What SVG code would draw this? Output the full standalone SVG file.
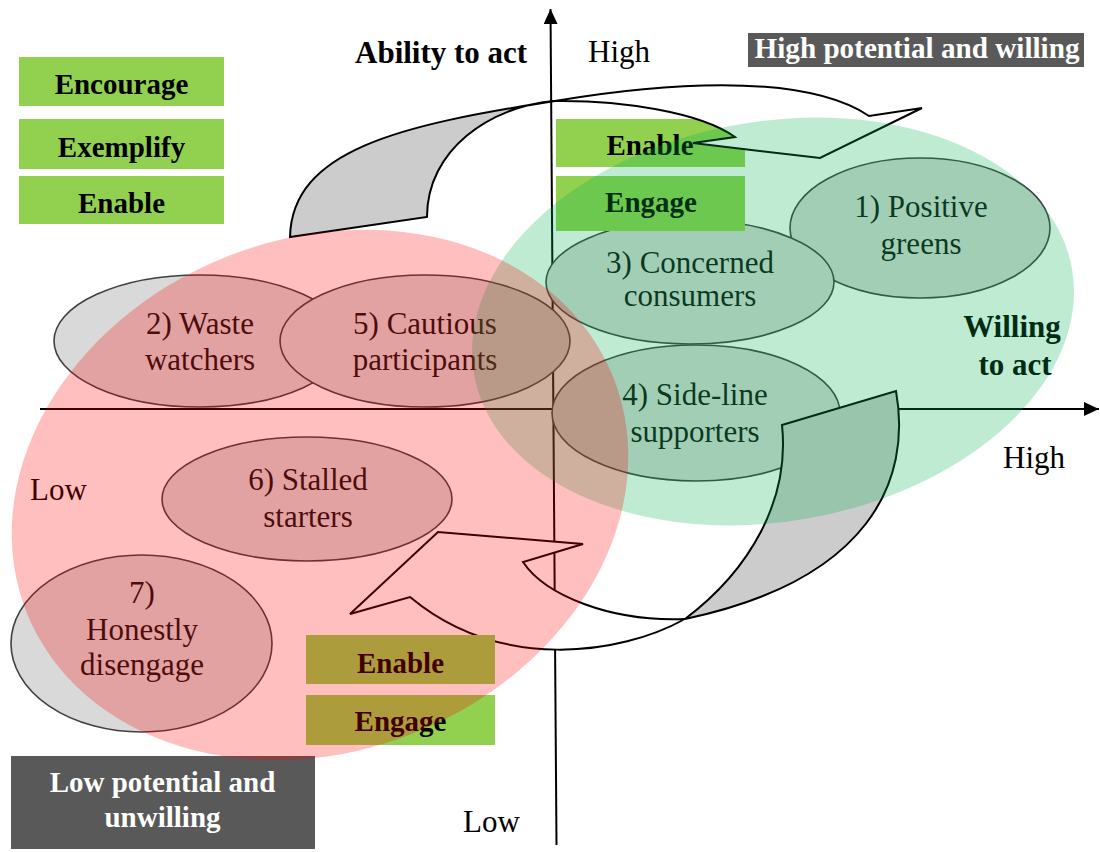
<svg xmlns="http://www.w3.org/2000/svg" width="1100" height="852" viewBox="0 0 1100 852">
  <defs>
    <style>
      .lbl{font-family:"Liberation Serif","Times New Roman",serif;font-size:31px;fill:#000}
      .bold{font-weight:bold}
      .box{fill:#92d050}
      .boxt{font-family:"Liberation Serif","Times New Roman",serif;font-size:29px;font-weight:bold;text-anchor:middle;fill:#000}
      .seg{fill:#d9d9d9;stroke:#404040;stroke-width:1.6}
      .segt{font-family:"Liberation Serif","Times New Roman",serif;font-size:31px;text-anchor:middle;fill:#111}
      .dark{fill:#595959}
      .darkt{font-family:"Liberation Serif","Times New Roman",serif;font-size:29px;font-weight:bold;text-anchor:middle;fill:#fff}
      .axis{stroke:#000;stroke-width:2;fill:none}
      .arw{stroke:#000;stroke-width:2;stroke-linejoin:miter}
      .front{fill:#fff}
      .back{fill:#cccccc}
    </style>
    <marker id="axhead" markerUnits="userSpaceOnUse" markerWidth="16" markerHeight="14" refX="15" refY="7" orient="auto">
      <path d="M0,0 L15,7 L0,14 Z" fill="#000"/>
    </marker>
  </defs>

  <rect width="1100" height="852" fill="#fff"/>

  <!-- axes -->
  <g id="axes">
    <line class="axis" x1="556.5" y1="845" x2="550.5" y2="9" marker-end="url(#axhead)"/>
    <line class="axis" x1="40" y1="409" x2="1099" y2="409" marker-end="url(#axhead)"/>
  </g>

  <!-- segments -->
  <g id="seg1">
    <ellipse class="seg" cx="920" cy="228" rx="130" ry="70"/>
    <text class="segt" x="921" y="217">1) Positive</text>
    <text class="segt" x="921" y="254">greens</text>
  </g>
  <g id="seg3">
    <ellipse class="seg" cx="690" cy="282" rx="144" ry="62"/>
    <text class="segt" x="690" y="273">3) Concerned</text>
    <text class="segt" x="690" y="306">consumers</text>
  </g>
  <g id="seg2">
    <ellipse class="seg" cx="200" cy="341" rx="146" ry="66"/>
    <text class="segt" x="200" y="334">2) Waste</text>
    <text class="segt" x="200" y="370">watchers</text>
  </g>
  <g id="seg5">
    <ellipse class="seg" cx="425" cy="341" rx="145" ry="66"/>
    <text class="segt" x="425" y="334">5) Cautious</text>
    <text class="segt" x="425" y="370">participants</text>
  </g>
  <g id="seg4">
    <ellipse class="seg" cx="696" cy="413" rx="144" ry="68"/>
    <text class="segt" x="695" y="405">4) Side-line</text>
    <text class="segt" x="695" y="442">supporters</text>
  </g>
  <g id="seg6">
    <ellipse class="seg" cx="307" cy="499" rx="145" ry="62"/>
    <text class="segt" x="308" y="490">6) Stalled</text>
    <text class="segt" x="308" y="527">starters</text>
  </g>
  <g id="seg7">
    <ellipse class="seg" cx="141.5" cy="643.5" rx="130.5" ry="88.5"/>
    <text class="segt" x="142" y="603">7)</text>
    <text class="segt" x="142" y="640">Honestly</text>
    <text class="segt" x="142" y="675">disengage</text>
  </g>

  <!-- strategy boxes, upper left -->
  <g id="box-encourage">
    <rect class="box" x="19" y="57" width="205" height="49"/>
    <text class="boxt" x="121.5" y="94">Encourage</text>
  </g>
  <g id="box-exemplify">
    <rect class="box" x="19" y="119" width="205" height="50"/>
    <text class="boxt" x="121.5" y="157">Exemplify</text>
  </g>
  <g id="box-enable-left">
    <rect class="box" x="19" y="176" width="205" height="48"/>
    <text class="boxt" x="121.5" y="213">Enable</text>
  </g>

  <!-- strategy boxes, upper centre -->
  <g id="box-enable-top">
    <rect class="box" x="556" y="119" width="189" height="48"/>
  </g>
  <g id="box-engage-top">
    <rect class="box" x="556" y="176" width="189" height="55"/>
    <text class="boxt" x="651" y="212">Engage</text>
  </g>

  <!-- connectors: twisted block arrows -->
  <g id="connectors">
    <g id="arrow-up">
      <path class="arw back" d="M290,237 C292,150 400,125 555,101 C490,106 427,150 427,217 Z"/>
      <path class="arw front" d="M555,101 C650,85 800,70 869,116 L922,108 L820,158 L693,143 L735,137 C700,112 620,100 555,101 Z"/>
    </g>
    <g id="arrow-down">
      <path class="arw back" d="M782,425 L896,391 C912,480 870,580 685,619 C750,570 790,500 782,425 Z"/>
      <path class="arw front" d="M685,619 C620,655 500,672 410,597 L350,614 L438,532 L583,544 L523,562 C545,595 610,622 685,619 Z"/>
    </g>
  </g>
  <text class="boxt" x="650" y="155">Enable</text>

  <!-- strategy boxes, lower centre -->
  <g id="box-enable-bottom">
    <rect class="box" x="306" y="635" width="189" height="49"/>
    <text class="boxt" x="400.5" y="673">Enable</text>
  </g>
  <g id="box-engage-bottom">
    <rect class="box" x="306" y="695" width="189" height="50"/>
    <text class="boxt" x="400.5" y="731">Engage</text>
  </g>

  <!-- axis and zone labels -->
  <g id="labels">
    <text class="lbl bold" x="355" y="63">Ability to act</text>
    <text class="lbl" x="588" y="62">High</text>
    <text class="lbl" x="1003" y="468">High</text>
    <text class="lbl" x="30" y="500">Low</text>
    <text class="lbl" x="463" y="832">Low</text>
    <text class="lbl bold" x="1012" y="337" text-anchor="middle">Willing</text>
    <text class="lbl bold" x="1015" y="375" text-anchor="middle">to act</text>
  </g>
  <g id="zone-high">
    <rect class="dark" x="748" y="33" width="336" height="34"/>
    <text class="darkt" x="917" y="58" font-size="25" textLength="325" lengthAdjust="spacingAndGlyphs">High potential and willing</text>
  </g>
  <g id="zone-low">
    <rect class="dark" x="11" y="756" width="304" height="93"/>
    <text class="darkt" x="162.5" y="792">Low potential and</text>
    <text class="darkt" x="162.5" y="827">unwilling</text>
  </g>

  <!-- translucent groupings laid over everything -->
  <g id="willing-zone">
    <ellipse cx="773" cy="321.5" rx="303.6" ry="200" transform="rotate(-10 773 321.5)" fill="#00b050" fill-opacity="0.25"/>
  </g>
  <g id="unwilling-zone">
    <ellipse cx="320" cy="495" rx="316" ry="256" transform="rotate(-22 320 495)" fill="#ff0000" fill-opacity="0.25"/>
  </g>
</svg>
